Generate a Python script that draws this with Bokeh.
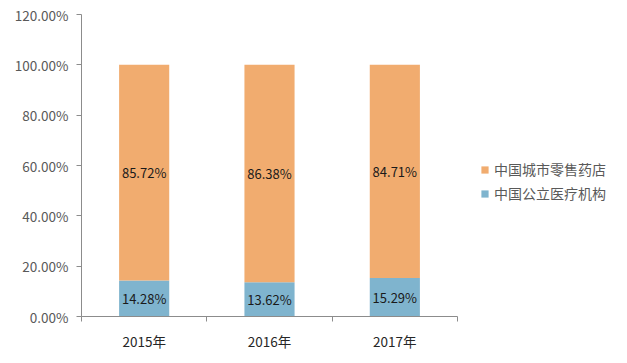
from bokeh.plotting import figure
from bokeh.models import (ColumnDataSource, Legend, LegendItem, FixedTicker,
                          NumeralTickFormatter, Range1d, LabelSet)
from bokeh.core.properties import value
from bokeh.embed import file_html
from bokeh.resources import INLINE

categories = ["2015年", "2016年", "2017年"]
public_hosp = [14.28, 13.62, 15.29]     # 中国公立医疗机构
retail_pharm = [85.72, 86.38, 84.71]    # 中国城市零售药店
series_names = ["中国城市零售药店", "中国公立医疗机构"]
y_ticks = [0, 0.2, 0.4, 0.6, 0.8, 1.0, 1.2]

x = [i + 0.5 for i in range(len(categories))]
pub = [v / 100 for v in public_hosp]
ret = [v / 100 for v in retail_pharm]
top = [a + b for a, b in zip(pub, ret)]

src = ColumnDataSource(dict(
    x=x, pub=pub, ret=ret, top=top,
    pub_mid=[a / 2 for a in pub],
    ret_mid=[a + b / 2 for a, b in zip(pub, ret)],
    pub_lbl=["%.2f%%" % v for v in public_hosp],
    ret_lbl=["%.2f%%" % v for v in retail_pharm],
))

FONT = "Noto Sans CJK SC"
ORANGE = "#F1AC6F"
BLUE = "#7FB4CE"

p = figure(frame_width=376, frame_height=302, output_backend="svg",
           toolbar_location=None, x_range=Range1d(0, 3), y_range=Range1d(0, 1.2),
           min_border_left=81, min_border_top=14, min_border_bottom=35,
           min_border_right=0)
p.outline_line_color = None
p.xgrid.visible = False
p.ygrid.visible = False

r_pub = p.vbar(x="x", width=0.4, bottom=0, top="pub", source=src,
               fill_color=BLUE, line_color=None)
r_ret = p.vbar(x="x", width=0.4, bottom="pub", top="top", source=src,
               fill_color=ORANGE, line_color=None)

for ycol, tcol in (("pub_mid", "pub_lbl"), ("ret_mid", "ret_lbl")):
    p.add_layout(LabelSet(x="x", y=ycol, text=tcol, source=src,
                          text_align="center", text_baseline="middle",
                          text_font=value(FONT), text_font_size=value("13px"),
                          text_color=value("#1a1a1a")))

# y axis
p.yaxis.ticker = FixedTicker(ticks=y_ticks, minor_ticks=[])
p.yaxis.formatter = NumeralTickFormatter(format="0.00%")
p.yaxis.axis_line_color = "#8C8C8C"
p.yaxis.major_tick_line_color = "#8C8C8C"
p.yaxis.major_tick_out = 5
p.yaxis.major_tick_in = 0
p.yaxis.minor_tick_line_color = None
p.yaxis.major_label_text_font = FONT
p.yaxis.major_label_text_font_size = "13.5px"
p.yaxis.major_label_text_color = "#595959"
p.yaxis.major_label_standoff = 8

# x axis: labels at centres, ticks at boundaries
p.xaxis.ticker = FixedTicker(ticks=x, minor_ticks=[i for i in range(len(categories) + 1)])
p.xaxis.major_label_overrides = {xx: c for xx, c in zip(x, categories)}
p.xaxis.axis_line_color = "#8C8C8C"
p.xaxis.major_tick_line_color = None
p.xaxis.minor_tick_line_color = "#8C8C8C"
p.xaxis.minor_tick_out = 5
p.xaxis.minor_tick_in = 0
p.xaxis.major_label_text_font = FONT
p.xaxis.major_label_text_font_size = "13.5px"
p.xaxis.major_label_text_color = "#262626"
p.xaxis.major_label_standoff = 8

legend = Legend(items=[LegendItem(label=series_names[0], renderers=[r_ret]),
                       LegendItem(label=series_names[1], renderers=[r_pub])],
                location=(23, 113), border_line_color=None,
                background_fill_alpha=0,
                label_text_font=FONT, label_text_font_size="14px",
                label_text_color="#595959",
                glyph_width=9, glyph_height=9, label_standoff=5,
                spacing=4, padding=2, margin=8)
p.add_layout(legend, "right")

open("out.html", "w").write(file_html(p, INLINE))
